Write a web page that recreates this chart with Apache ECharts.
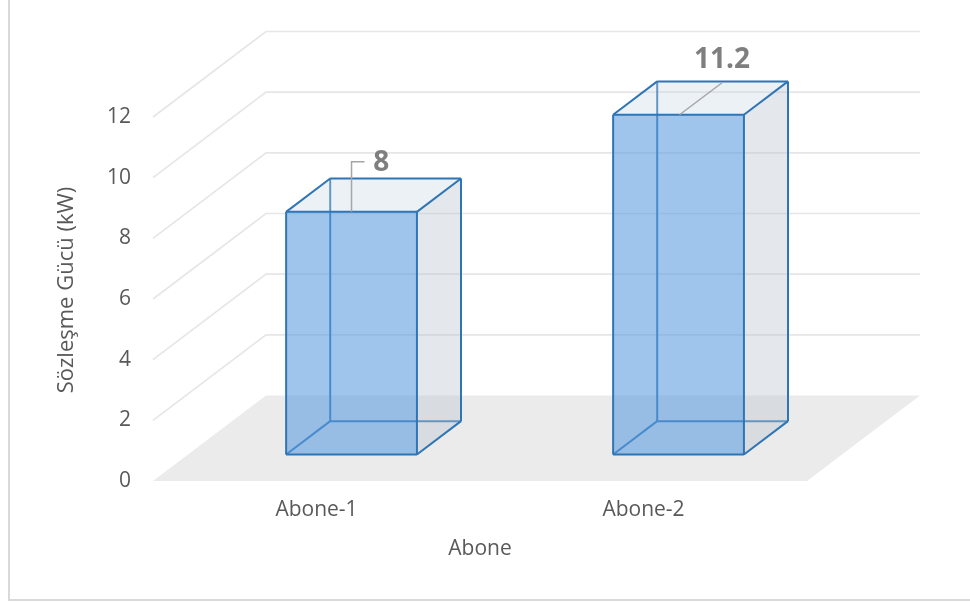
<!DOCTYPE html>
<html>
<head>
<meta charset="utf-8">
<script src="https://cdn.jsdelivr.net/npm/echarts@6/dist/echarts.min.js"></script>
<style>
  html, body { margin: 0; padding: 0; background: #ffffff; }
  #chart { width: 970px; height: 602px; }
</style>
</head>
<body>
<div id="chart"></div>
<script>
// ---- data ----
const categories = ['Abone-1', 'Abone-2'];
const values = [8, 11.2];
const yTicks = [0, 2, 4, 6, 8, 10, 12];

// ---- 3D look ----
const DEPTH = [113, -85.5];          // screen offset of the back wall from the front plane
const BAR_FRONT = 0.31;              // bar front face, as fraction of the depth
const BAR_BACK = 0.70;               // bar back face, as fraction of the depth
const BAR_HALF = 0.2;                // half bar width, fraction of the category band
const FONT = '"Open Sans", "Noto Sans", sans-serif';
const TEXT_COLOR = '#595959';
const EDGE = '#2E75B6';

// leader line + label placement for each bar, relative to the midpoint of its top front edge
const leaders = [
  { path: [[0, 0], [0, -50], [13, -50]], text: [29.6, -48.7] },
  { path: [[1, 0], [43.5, -32]], text: [43.5, -55] }
];

function shift(pt, d) {
  return [pt[0] + d * DEPTH[0], pt[1] + d * DEPTH[1]];
}

// floor and the side/back wall gridlines
function renderWall(params, api) {
  const cs = params.coordSys;
  const v = api.value(1);
  const y = api.coord([0, v])[1];
  const x0 = cs.x, x1 = cs.x + cs.width;
  const [dx, dy] = DEPTH;
  if (v === 0) {
    return {
      type: 'polygon',
      shape: { points: [[x0, y], [x1, y], [x1 + dx, y + dy], [x0 + dx, y + dy]] },
      style: { fill: '#EBEBEB' }
    };
  }
  return {
    type: 'polyline',
    shape: { points: [[x0, y], [x0 + dx, y + dy], [x1 + dx, y + dy]] },
    style: { stroke: '#E6E6E6', lineWidth: 1.6, fill: null }
  };
}

// transparent 3D box for each bar, with its value label
function renderBar(params, api) {
  const i = api.value(0);
  const v = api.value(1);
  const base = api.coord([i, 0]);
  const top = api.coord([i, v]);
  const half = api.size([1, 0])[0] * BAR_HALF;
  const xl = base[0] - half, xr = base[0] + half;
  const yb = base[1], yt = top[1];

  const fbl = shift([xl, yb], BAR_FRONT), fbr = shift([xr, yb], BAR_FRONT);
  const ftl = shift([xl, yt], BAR_FRONT), ftr = shift([xr, yt], BAR_FRONT);
  const bbl = shift([xl, yb], BAR_BACK), bbr = shift([xr, yb], BAR_BACK);
  const btl = shift([xl, yt], BAR_BACK), btr = shift([xr, yt], BAR_BACK);

  const line = (a, b) => ({
    type: 'line',
    shape: { x1: a[0], y1: a[1], x2: b[0], y2: b[1] },
    style: { stroke: EDGE, lineWidth: 2 }
  });
  const face = (pts, fill) => ({
    type: 'polygon',
    shape: { points: pts },
    style: { fill: fill }
  });

  const mid = shift([base[0], yt], BAR_FRONT);
  const lead = leaders[i];
  const leadPts = lead.path.map(p => [mid[0] + p[0], mid[1] + p[1]]);

  return {
    type: 'group',
    children: [
      // edges behind the front face
      line(bbl, btl), line(bbl, bbr), line(fbl, bbl),
      // faces
      face([fbr, bbr, btr, ftr], 'rgba(188,198,208,0.4)'),
      face([ftl, ftr, btr, btl], 'rgba(200,215,230,0.35)'),
      face([fbl, fbr, ftr, ftl], 'rgba(91,155,222,0.58)'),
      // visible edges
      line(fbl, fbr), line(fbr, ftr), line(ftr, ftl), line(ftl, fbl),
      line(ftl, btl), line(ftr, btr), line(btl, btr), line(btr, bbr), line(fbr, bbr),
      // value label with leader line
      {
        type: 'polyline',
        shape: { points: leadPts },
        style: { stroke: '#A6A6A6', lineWidth: 1.5, fill: null }
      },
      {
        type: 'text',
        x: mid[0] + lead.text[0],
        y: mid[1] + lead.text[1],
        style: {
          text: String(v),
          fontFamily: FONT,
          fontWeight: 'bold',
          fontSize: 28,
          fill: '#7F7F7F',
          align: 'center',
          verticalAlign: 'middle'
        }
      }
    ]
  };
}

const chart = echarts.init(document.getElementById('chart'), null, { renderer: 'canvas' });

chart.setOption({
  animation: false,
  backgroundColor: '#ffffff',
  textStyle: { fontFamily: FONT },
  grid: { left: 153, right: 163, top: 117, bottom: 121 },
  xAxis: {
    type: 'category',
    data: categories,
    axisLine: { show: false },
    axisTick: { show: false },
    splitLine: { show: false },
    axisLabel: { fontSize: 21, color: TEXT_COLOR, margin: 19, fontFamily: FONT },
    name: 'Abone',
    nameLocation: 'middle',
    nameGap: 58,
    nameTextStyle: { fontSize: 21, color: TEXT_COLOR, fontFamily: FONT }
  },
  yAxis: {
    type: 'value',
    min: 0,
    max: 12,
    interval: 2,
    axisLine: { show: false },
    axisTick: { show: false },
    splitLine: { show: false },
    axisLabel: { fontSize: 21, color: TEXT_COLOR, margin: 22, fontFamily: FONT }
  },
  graphic: [
    {
      type: 'rect',
      shape: { x: 9, y: -10, width: 990, height: 610 },
      style: { fill: null, stroke: '#D9D9D9', lineWidth: 2 },
      silent: true
    },
    {
      type: 'text',
      x: 67,
      y: 290,
      rotation: Math.PI / 2,
      style: {
        text: 'Sözleşme Gücü (kW)',
        fontFamily: FONT,
        fontSize: 22,
        fill: TEXT_COLOR,
        align: 'center',
        verticalAlign: 'middle'
      }
    }
  ],
  series: [
    {
      type: 'custom',
      name: 'walls',
      z: 1,
      silent: true,
      renderItem: renderWall,
      encode: { x: 0, y: 1 },
      data: yTicks.map(v => [0, v])
    },
    {
      type: 'custom',
      name: 'Sözleşme Gücü',
      z: 2,
      renderItem: renderBar,
      encode: { x: 0, y: 1 },
      data: values.map((v, i) => [i, v])
    }
  ]
});
</script>
</body>
</html>
